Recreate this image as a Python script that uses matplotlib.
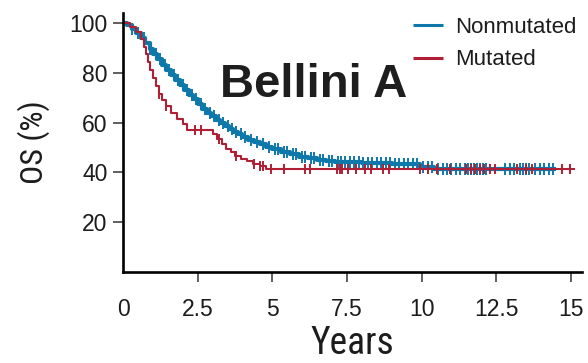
import matplotlib
matplotlib.use("Agg")
import matplotlib.pyplot as plt
from matplotlib import font_manager as fm
import numpy as np

# ---- data ----
nonmut_t = [0, 0.15, 0.3, 0.45, 0.6, 0.75, 0.9, 1.0, 1.15, 1.3, 1.45, 1.6, 1.75, 1.9, 2.05,
            2.2, 2.35, 2.5, 2.65, 2.8, 2.95, 3.1, 3.25, 3.4, 3.55, 3.7, 3.85, 4.0, 4.2,
            4.4, 4.6, 4.8, 5.0, 5.3, 5.6, 5.9, 6.2, 6.5, 6.8, 7.1, 8.0, 9.0, 9.95, 10.4]
nonmut_s = [100, 99, 97.5, 96, 94, 92, 89.5, 87.5, 85.5, 83, 81, 79, 77, 75, 73,
            71, 69.5, 67.5, 65.5, 64, 62.5, 61, 59.8, 58.6, 57.4, 56.3, 55.3, 54.3, 53.2,
            52.2, 51.2, 50.3, 49.4, 48.2, 47.2, 46.3, 45.6, 45.0, 44.5, 44.2, 43.9, 43.5, 42.3, 41.3]
nonmut_end = 14.5
nonmut_cens = [0.3, 0.5, 0.7, 0.9, 1.1, 1.25, 1.4, 1.55, 1.7, 1.85, 2.0, 2.15, 2.3, 2.45,
               2.6, 2.75, 2.9, 3.05, 3.2, 3.35, 3.5, 3.65, 3.8, 3.95, 4.1, 4.3, 4.5, 4.7,
               4.9, 5.1, 5.2, 5.4, 5.5, 5.7, 5.8, 6.0, 6.1, 6.3, 6.4, 6.6, 6.7, 6.9, 7.0,
               7.2, 7.3, 7.45, 7.6, 7.75, 7.9, 8.05, 8.2, 8.35, 8.5, 8.65, 8.8, 8.95, 9.1,
               9.25, 9.4, 9.55, 9.7, 9.85, 10.05, 10.2, 10.35, 10.55, 10.7, 10.85, 11.0,
               11.15, 11.3, 11.45, 11.55, 11.65, 11.75, 11.85, 11.95, 12.05, 12.15,
               12.8, 12.95, 13.1, 13.3, 13.4, 13.5, 13.6, 13.8, 13.95, 14.1, 14.25, 14.4]

mut_t = [0, 0.25, 0.45, 0.6, 0.7, 0.78, 0.85, 0.92, 1.0, 1.1, 1.2, 1.3, 1.45, 1.6, 1.8,
         2.0, 2.15, 3.0, 3.15, 3.3, 3.45, 3.6, 3.75, 3.95, 4.15, 4.35, 4.6, 4.8]
mut_s = [100, 98.5, 96.5, 93.5, 90.5, 87.5, 84.5, 81, 78, 74.5, 71.5, 69, 66.5, 64, 61.5,
         59.5, 57.2, 55.5, 53.5, 51.5, 49.5, 48, 46.5, 45.5, 44.5, 43.5, 42.5, 41.2]
mut_end = 15.13
mut_cens = [1.2, 1.45, 2.4, 2.6, 3.2, 3.8, 4.4, 4.6, 4.7, 4.95, 5.4, 6.1, 6.25, 7.15, 7.25,
            7.35, 7.55, 7.8, 8.1, 8.3, 8.7, 8.9, 9.95, 10.2, 10.5, 10.95, 11.5, 11.65,
            11.8, 11.95, 12.1, 12.3, 12.45, 13.2, 13.5, 13.7, 14.7, 14.97]

xticks = [0, 2.5, 5, 7.5, 10, 12.5, 15]
xticklabels = ["0", "2.5", "5", "7.5", "10", "12.5", "15"]
yticks = [20, 40, 60, 80, 100]
series_names = ["Nonmutated", "Mutated"]

BLUE = "#0e78aa"
RED = "#b01f35"
TXT = "#1c1c1c"
SANS = ["Liberation Sans", "DejaVu Sans"]

# pick a condensed face for axis titles if one is installed
entries = fm.fontManager.ttflist
names = {f.name for f in entries}
narrow_kw = None
for cand in ["Liberation Sans Narrow", "Roboto Condensed", "Open Sans Condensed",
             "Noto Sans Condensed", "DejaVu Sans Condensed"]:
    if cand in names:
        narrow_kw = dict(family=[cand, "DejaVu Sans"])
        break
if narrow_kw is None:
    cond = [f for f in entries if str(f.stretch) in ("condensed", "semi-condensed", "500", "75", "87.5")
            or (isinstance(f.stretch, int) and f.stretch < 500)]
    cond = [f for f in cond if str(f.weight) in ("400", "normal", "regular")]
    if cond:
        narrow_kw = dict(fname=cond[0].fname)
    else:
        narrow_kw = dict(family=["Roboto", "DejaVu Sans"])

fig = plt.figure(figsize=(5.88, 3.63), dpi=100)
ax = fig.add_axes([123/588, 1-272/363, (582-123)/588, (272-13)/363])


def km_plot(t, s, t_end, cens, color, lw, label, msize):
    tt = list(t) + [t_end]
    ss = list(s) + [s[-1]]
    ax.step(tt, ss, where="post", color=color, lw=lw, label=label, solid_capstyle="butt")
    cy = [ss[np.searchsorted(tt, c, side="right") - 1] for c in cens]
    ax.plot(cens, cy, ls="none", marker="|", ms=msize, mew=1.4, color=color)


km_plot(nonmut_t, nonmut_s, nonmut_end, nonmut_cens, BLUE, 3.0, series_names[0], 8)
km_plot(mut_t, mut_s, mut_end, mut_cens, RED, 1.5, series_names[1], 7)

ax.set_xlim(0, 15.37)
ax.set_ylim(0, 104)
for sp in ["top", "right"]:
    ax.spines[sp].set_visible(False)
for sp in ["left", "bottom"]:
    ax.spines[sp].set_linewidth(1.9)
    ax.spines[sp].set_color("black")

ax.set_xticks(xticks)
ax.set_xticklabels(xticklabels)
ax.set_yticks(yticks)
ax.tick_params(axis="both", direction="out", length=7.5, width=1.1, color="#333333",
               labelsize=16.5, labelcolor=TXT)
ax.tick_params(axis="y", pad=3.5)
ax.tick_params(axis="x", pad=11)
for lab in ax.get_xticklabels() + ax.get_yticklabels():
    lab.set_family(SANS)
ax.xaxis.get_major_ticks()[0].tick1line.set_visible(False)

if "fname" in narrow_kw:
    xl_fp = fm.FontProperties(fname=narrow_kw["fname"], size=27)
    yl_fp = fm.FontProperties(fname=narrow_kw["fname"], size=23)
else:
    xl_fp = fm.FontProperties(family=narrow_kw["family"], size=27)
    yl_fp = fm.FontProperties(family=narrow_kw["family"], size=23)
ax.set_xlabel("Years", fontproperties=xl_fp, color=TXT, labelpad=3)
ax.set_ylabel("OS (%)", fontproperties=yl_fp, color=TXT, labelpad=14)

leg = ax.legend(loc="upper left", bbox_to_anchor=(404/588, 1-8/363), bbox_transform=fig.transFigure,
                frameon=False, handlelength=1.35, handletextpad=0.55, labelspacing=0.52,
                prop={"family": SANS, "size": 16}, borderaxespad=0.0)
for h in leg.get_lines():
    h.set_linewidth(2.2)
for t in leg.get_texts():
    t.set_color(TXT)

fig.text(220/588, 1-97/363, "Bellini A", family=SANS, fontweight="bold", fontsize=34,
         color="#1e1e1e", va="baseline", ha="left")

fig.savefig("out.png", dpi=100)
